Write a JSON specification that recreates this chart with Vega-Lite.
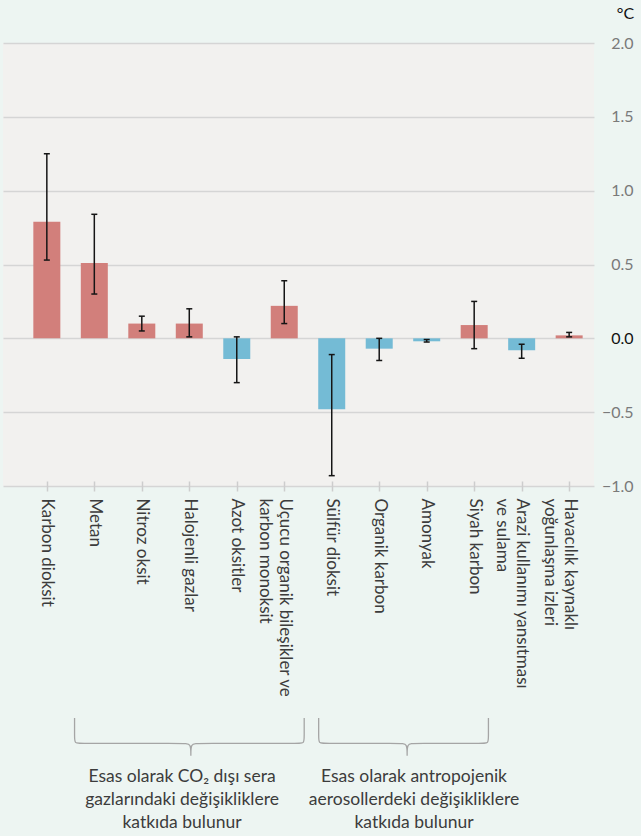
{
  "$schema": "https://vega.github.io/schema/vega-lite/v6.json",
  "width": 591,
  "height": 443,
  "autosize": {"type": "none"},
  "padding": {"left": 3, "top": 43, "right": 47, "bottom": 350},
  "background": "#edf5f2",
  "config": {
    "view": {"fill": "#f2f1ef", "stroke": null},
    "font": "Lato",
    "text": {"font": "Lato"}
  },
  "datasets": {
    "bars": [
      {"i": 0, "name": "Karbon dioksit", "v": 0.79, "lo": 0.53, "hi": 1.25},
      {"i": 1, "name": "Metan", "v": 0.51, "lo": 0.30, "hi": 0.84},
      {"i": 2, "name": "Nitroz oksit", "v": 0.10, "lo": 0.05, "hi": 0.15},
      {"i": 3, "name": "Halojenli gazlar", "v": 0.10, "lo": 0.01, "hi": 0.20},
      {"i": 4, "name": "Azot oksitler", "v": -0.14, "lo": -0.30, "hi": 0.01},
      {"i": 5, "name": "Uçucu organik bileşikler ve karbon monoksit", "v": 0.22, "lo": 0.10, "hi": 0.39},
      {"i": 6, "name": "Sülfür dioksit", "v": -0.48, "lo": -0.93, "hi": -0.11},
      {"i": 7, "name": "Organik karbon", "v": -0.07, "lo": -0.15, "hi": 0.0},
      {"i": 8, "name": "Amonyak", "v": -0.02, "lo": -0.025, "hi": -0.008},
      {"i": 9, "name": "Siyah karbon", "v": 0.09, "lo": -0.07, "hi": 0.25},
      {"i": 10, "name": "Arazi kullanımı yansıtması ve sulama", "v": -0.08, "lo": -0.135, "hi": -0.04},
      {"i": 11, "name": "Havacılık kaynaklı yoğunlaşma izleri", "v": 0.02, "lo": 0.01, "hi": 0.04}
    ],
    "braces": [
      {"b": 1, "o": 1, "x": 0.584, "y": -2.571},
      {"b": 1, "o": 2, "x": 0.584, "y": -2.702},
      {"b": 1, "o": 3, "x": 0.584, "y": -2.743},
      {"b": 1, "o": 4, "x": 0.708, "y": -2.743},
      {"b": 1, "o": 5, "x": 2.909, "y": -2.743},
      {"b": 1, "o": 6, "x": 3.033, "y": -2.743},
      {"b": 1, "o": 7, "x": 3.033, "y": -2.827},
      {"b": 1, "o": 8, "x": 3.033, "y": -2.827},
      {"b": 1, "o": 9, "x": 3.033, "y": -2.827},
      {"b": 1, "o": 10, "x": 3.033, "y": -2.743},
      {"b": 1, "o": 11, "x": 3.157, "y": -2.743},
      {"b": 1, "o": 12, "x": 5.296, "y": -2.743},
      {"b": 1, "o": 13, "x": 5.420, "y": -2.743},
      {"b": 1, "o": 14, "x": 5.420, "y": -2.702},
      {"b": 1, "o": 15, "x": 5.420, "y": -2.571},
      {"b": 2, "o": 1, "x": 5.725, "y": -2.571},
      {"b": 2, "o": 2, "x": 5.725, "y": -2.702},
      {"b": 2, "o": 3, "x": 5.725, "y": -2.743},
      {"b": 2, "o": 4, "x": 5.849, "y": -2.743},
      {"b": 2, "o": 5, "x": 7.464, "y": -2.743},
      {"b": 2, "o": 6, "x": 7.588, "y": -2.743},
      {"b": 2, "o": 7, "x": 7.588, "y": -2.827},
      {"b": 2, "o": 8, "x": 7.588, "y": -2.827},
      {"b": 2, "o": 9, "x": 7.588, "y": -2.827},
      {"b": 2, "o": 10, "x": 7.588, "y": -2.743},
      {"b": 2, "o": 11, "x": 7.712, "y": -2.743},
      {"b": 2, "o": 12, "x": 9.176, "y": -2.743},
      {"b": 2, "o": 13, "x": 9.300, "y": -2.743},
      {"b": 2, "o": 14, "x": 9.300, "y": -2.702},
      {"b": 2, "o": 15, "x": 9.300, "y": -2.571}
    ],
    "groups": [
      {"x": 2.847, "y": -3.005, "label": "Esas olarak CO₂ dışı sera\ngazlarındaki değişikliklere\nkatkıda bulunur"},
      {"x": 7.733, "y": -3.005, "label": "Esas olarak antropojenik\naerosollerdeki değişikliklere\nkatkıda bulunur"}
    ]
  },
  "layer": [
    {
      "data": {"name": "bars"},
      "mark": {"type": "bar", "orient": "vertical", "width": 27},
      "encoding": {
        "x": {
          "field": "i",
          "type": "quantitative",
          "scale": {"domain": [-0.8178, 11.418], "nice": false, "zero": false},
          "axis": {
            "values": [0, 1, 2, 3, 4, 5, 6, 7, 8, 9, 10, 11],
            "labelExpr": "['Karbon dioksit','Metan','Nitroz oksit','Halojenli gazlar','Azot oksitler',['Uçucu organik bileşikler ve','karbon monoksit'],'Sülfür dioksit','Organik karbon','Amonyak','Siyah karbon',['Arazi kullanımı yansıtması','ve sulama'],['Havacılık kaynaklı','yoğunlaşma izleri']][datum.value]",
            "title": null,
            "grid": false,
            "domain": false,
            "ticks": true,
            "tickColor": "#cdcdcd",
            "tickWidth": 1.5,
            "tickSize": 10,
            "offset": -5,
            "labelPadding": 7,
            "labelAngle": 90,
            "labelAlign": "left",
            "labelBaseline": "middle",
            "labelFont": "Lato",
            "labelFontSize": 17,
            "labelLineHeight": 20,
            "labelColor": "#3c3c3c",
            "labelLimit": 0,
            "labelOverlap": false,
            "labelFlush": false,
            "labelBound": false
          }
        },
        "y": {
          "field": "v",
          "type": "quantitative",
          "scale": {"domain": [-1, 2], "nice": false, "zero": false},
          "axis": {
            "orient": "right",
            "values": [-1, -0.5, 0, 0.5, 1, 1.5, 2],
            "labelExpr": "replace(format(datum.value, '.1f'), '-', '−')",
            "grid": true,
            "gridColor": "#d5d5d5",
            "gridWidth": 1.4,
            "domain": false,
            "ticks": false,
            "tickSize": 0,
            "labelPadding": 39,
            "labelAlign": "right",
            "labelBaseline": "middle",
            "labelFont": "Lato",
            "labelFontSize": 16,
            "labelColor": {"condition": {"test": "datum.value == 0", "value": "#111111"}, "value": "#7a7a7a"},
            "labelFlush": false,
            "labelOverlap": false,
            "title": "°C",
            "titleAngle": 0,
            "titleAlign": "center",
            "titleBaseline": "alphabetic",
            "titleX": 31,
            "titleY": -25,
            "titleFont": "Lato",
            "titleFontSize": 16,
            "titleFontWeight": "normal",
            "titleColor": "#111111"
          }
        },
        "y2": {"datum": 0},
        "color": {"condition": {"test": "datum.v > 0", "value": "#d27f7b"}, "value": "#74bbd5"}
      }
    },
    {
      "data": {"name": "bars"},
      "mark": {"type": "rule", "color": "#151515", "strokeWidth": 1.5},
      "encoding": {
        "x": {"field": "i", "type": "quantitative"},
        "y": {"field": "lo", "type": "quantitative"},
        "y2": {"field": "hi"}
      }
    },
    {
      "data": {"name": "bars"},
      "mark": {"type": "tick", "orient": "horizontal", "color": "#151515", "size": 6, "thickness": 1.5, "opacity": 1},
      "encoding": {
        "x": {"field": "i", "type": "quantitative"},
        "y": {"field": "lo", "type": "quantitative"}
      }
    },
    {
      "data": {"name": "bars"},
      "mark": {"type": "tick", "orient": "horizontal", "color": "#151515", "size": 6, "thickness": 1.5, "opacity": 1},
      "encoding": {
        "x": {"field": "i", "type": "quantitative"},
        "y": {"field": "hi", "type": "quantitative"}
      }
    },
    {
      "data": {"name": "braces"},
      "mark": {"type": "line", "interpolate": "basis", "stroke": "#a5a5a5", "strokeWidth": 1.3, "clip": false},
      "encoding": {
        "x": {"field": "x", "type": "quantitative"},
        "y": {"field": "y", "type": "quantitative"},
        "detail": {"field": "b"},
        "order": {"field": "o", "type": "quantitative"}
      }
    },
    {
      "data": {"name": "groups"},
      "mark": {"type": "text", "lineBreak": "\n", "align": "center", "baseline": "alphabetic", "font": "Lato", "fontSize": 17.5, "lineHeight": 23, "color": "#3c3c3c", "clip": false},
      "encoding": {
        "x": {"field": "x", "type": "quantitative"},
        "y": {"field": "y", "type": "quantitative"},
        "text": {"field": "label"}
      }
    }
  ]
}
